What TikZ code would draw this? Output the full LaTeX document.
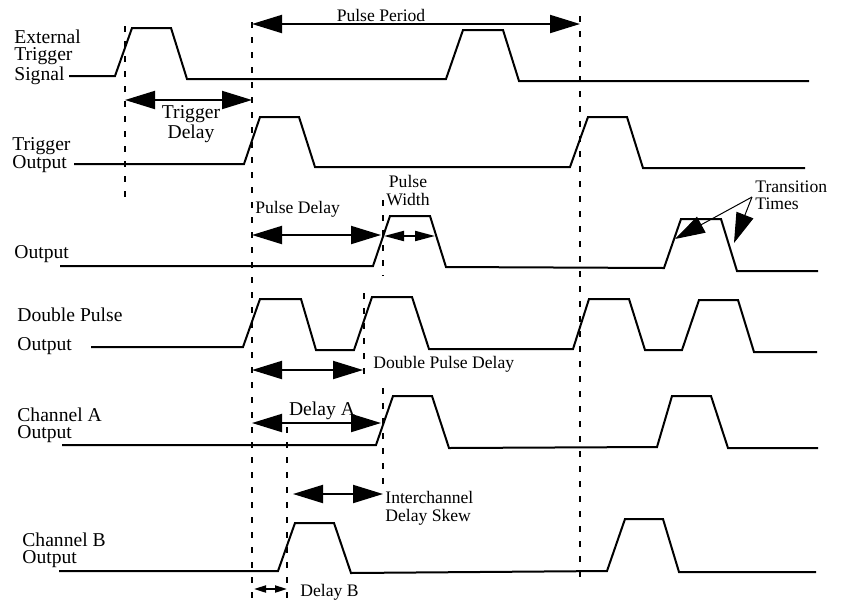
\documentclass[tikz,border=0pt]{standalone}
\usepackage{fontspec}
\setmainfont{Liberation Serif}
\usetikzlibrary{arrows.meta}

\begin{document}
\begin{tikzpicture}[
    x=0.5pt, y=-0.5pt,
    wave/.style={line width=1pt, line join=miter},
    marker/.style={line width=1pt, dash pattern=on 3pt off 4.5pt},
    dimbig/.style={line width=1pt, <->, >={Triangle[length=15pt,width=9pt]}},
    dimmid/.style={line width=1pt, <->, >={Triangle[length=10pt,width=5pt]}},
    dimsmall/.style={line width=1pt, <->, >={Triangle[length=6pt,width=3.5pt]}},
    pointer/.style={line width=0.5pt, ->, >={Triangle[length=15pt,width=9pt]}},
    lbl/.style={font=\fontsize{9.8}{8.9}\selectfont, inner sep=0pt, align=left},
    lblsm/.style={font=\fontsize{8.8}{8.7}\selectfont, inner sep=0pt, align=left}
]
    \useasboundingbox (0,0) rectangle (842,601);

    % --- Signal names ---
    \node[lbl, anchor=north west] (extLbl) at (14,29)  {External\\Trigger\\Signal};
    \node[lbl, anchor=north west] (toLbl)  at (12,137) {Trigger\\Output};
    \node[lbl, anchor=north west] (outLbl) at (14,245) {Output};
    \node[lbl, anchor=north west] (dpoLbl) at (17,307) {Double Pulse\\[5.7pt]Output};
    \node[lbl, anchor=north west] (chaLbl) at (17,407) {Channel A\\Output};
    \node[lbl, anchor=north west] (chbLbl) at (22,532) {Channel B\\Output};

    % --- Waveforms ---
    \draw[wave] (69,76) -- (115,76) -- (132,28) -- (171,28) -- (187,79)
        -- (446,79) -- (463,30) -- (503,30) -- (519,81) -- (809,81);
    \draw[wave] (74,164) -- (244,164) -- (260,117) -- (299,117) -- (315,167)
        -- (570,167) -- (588,117) -- (627,117) -- (643,168) -- (805,168);
    \draw[wave] (60,266) -- (373,266) -- (390,216) -- (430,216) -- (446,267)
        -- (664,268) -- (681,219) -- (721,219) -- (737,271) -- (818,271);
    \draw[wave] (91,347) -- (243,347) -- (260,299) -- (301,299) -- (316,350)
        -- (354,350) -- (372,297) -- (412,297) -- (429,349)
        -- (573,349) -- (589,299) -- (629,299) -- (645,350)
        -- (682,350) -- (699,300) -- (738,300) -- (754,352) -- (817,352);
    \draw[wave] (62,445) -- (376,445) -- (393,396) -- (432,396) -- (449,448)
        -- (657,447) -- (672,396) -- (711,396) -- (728,448) -- (818,448);
    \draw[wave] (59,571) -- (278,571) -- (295,523) -- (334,523) -- (351,573)
        -- (607,571) -- (625,519) -- (663,519) -- (679,572) -- (816,572);

    % --- Timing markers ---
    \coordinate (mT1) at (125,26);  \coordinate (mT2) at (125,205);
    \coordinate (m01) at (252,22);  \coordinate (m02) at (252,600);
    \coordinate (mP1) at (580,16);  \coordinate (mP2) at (580,583);
    \coordinate (mW1) at (383,200); \coordinate (mW2) at (383,276);
    \coordinate (mD1) at (364,293); \coordinate (mD2) at (364,380);
    \coordinate (mA1) at (383,388); \coordinate (mA2) at (383,490);
    \coordinate (mB1) at (287,427); \coordinate (mB2) at (287,600);
    \foreach \m in {mT,m0,mP,mW,mD,mA,mB}
        \draw[marker] (\m1) -- (\m2);

    % --- Pulse Period ---
    \coordinate (ppL) at (252,24); \coordinate (ppR) at (580,24);
    \draw[dimbig] (ppL) -- (ppR);
    \node[lblsm, anchor=north] (ppLbl) at (381,9) {Pulse Period};

    % --- Trigger Delay ---
    \coordinate (tdL) at (125,100); \coordinate (tdR) at (252,100);
    \draw[dimbig] (tdL) -- (tdR);
    \node[lbl, align=center, anchor=north] (tdLbl) at (191,105) {Trigger\\Delay};

    % --- Pulse Delay / Pulse Width ---
    \coordinate (pdL) at (252,235); \coordinate (pdR) at (381,235);
    \draw[dimbig] (pdL) -- (pdR);
    \node[lblsm, anchor=north west] (pdLbl) at (255,201) {Pulse Delay};
    \coordinate (pwL) at (384,236); \coordinate (pwR) at (435,236);
    \draw[dimmid] (pwL) -- (pwR);
    \node[lblsm, align=center, anchor=north] (pwLbl) at (408,175) {Pulse\\Width};

    % --- Transition Times ---
    \node[lblsm, anchor=north west] (ttLbl) at (755,180) {Transition\\Times};
    \coordinate (ttO) at (752,197);
    \coordinate (ttR) at (675,239); \coordinate (ttF) at (734,243);
    \draw[pointer] (ttO) -- (ttR);
    \draw[pointer] (ttO) -- (ttF);

    % --- Double Pulse Delay ---
    \coordinate (dpL) at (252,370); \coordinate (dpR) at (363,370);
    \draw[dimbig] (dpL) -- (dpR);
    \node[lblsm, anchor=north west] (dpdLbl) at (373,356) {Double Pulse Delay};

    % --- Delay A / Interchannel skew / Delay B ---
    \coordinate (daL) at (252,423); \coordinate (daR) at (381,423);
    \draw[dimbig] (daL) -- (daR);
    \node[lbl, anchor=north] (daLbl) at (322,401) {Delay A};
    \coordinate (skL) at (293,494); \coordinate (skR) at (383,494);
    \draw[dimbig] (skL) -- (skR);
    \node[lblsm, anchor=north west] (skLbl) at (385,491) {Interchannel\\Delay Skew};
    \coordinate (dbL) at (254,589); \coordinate (dbR) at (287,589);
    \draw[dimsmall] (dbL) -- (dbR);
    \node[lblsm, anchor=north west] (dbLbl) at (300,584) {Delay B};

\end{tikzpicture}
\end{document}
